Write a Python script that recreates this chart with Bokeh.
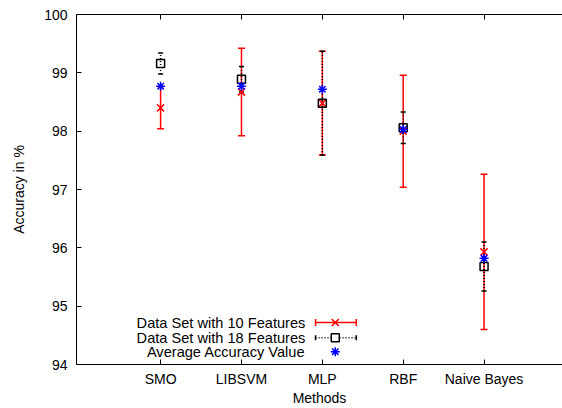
from bokeh.plotting import figure
from bokeh.models import (ColumnDataSource, Whisker, TeeHead, FixedTicker, LinearAxis,
                          Range1d, Label)
from bokeh.embed import file_html
from bokeh.resources import INLINE

# ---- data ----
methods = ["SMO", "LIBSVM", "MLP", "RBF", "Naive Bayes"]
acc10 = [98.40, 98.67, 98.48, 98.00, 95.93]
err10 = [0.36, 0.75, 0.89, 0.96, 1.33]
acc18 = [99.16, 98.89, 98.48, 98.06, 95.68]
err18 = [0.18, 0.22, 0.89, 0.27, 0.42]
avg_acc = [98.77, 98.77, 98.72, 98.03, 95.82]
y_ticks = [94, 95, 96, 97, 98, 99, 100]
legend_labels = ["Data Set with 10 Features", "Data Set with 18 Features",
                 "Average Accuracy Value"]

xs = list(range(1, len(methods) + 1))
FONT = "Liberation Sans"
FS = "14px"
LFS = "14.6px"

src = ColumnDataSource(dict(
    x=xs,
    a10=acc10, lo10=[a - e for a, e in zip(acc10, err10)], hi10=[a + e for a, e in zip(acc10, err10)],
    a18=acc18, lo18=[a - e for a, e in zip(acc18, err18)], hi18=[a + e for a, e in zip(acc18, err18)],
    avg=avg_acc,
))

p = figure(width=562, height=408, output_backend="svg", toolbar_location=None,
           x_range=Range1d(-0.04, 5.97), y_range=Range1d(94, 100),
           min_border_left=76, min_border_right=0, min_border_top=14, min_border_bottom=0)
p.outline_line_color = None
p.grid.visible = False
p.background_fill_color = "white"

# ---- axes ----
for ax in (p.xaxis[0], p.yaxis[0]):
    ax.axis_line_color = "black"
    ax.axis_line_width = 1
    ax.major_tick_line_color = "black"
    ax.major_tick_in = 5
    ax.major_tick_out = 0
    ax.minor_tick_line_color = None
    ax.major_label_text_font = FONT
    ax.major_label_text_font_size = FS
    ax.major_label_text_color = "black"
    ax.axis_label_text_font = FONT
    ax.axis_label_text_font_size = FS
    ax.axis_label_text_font_style = "normal"
    ax.axis_label_text_color = "black"

p.xaxis.ticker = FixedTicker(ticks=xs)
p.xaxis.major_label_overrides = {x: m for x, m in zip(xs, methods)}
p.xaxis.axis_label = "Methods"
p.xaxis.major_label_standoff = 6
p.xaxis.axis_label_standoff = 0

p.yaxis.ticker = FixedTicker(ticks=y_ticks)
p.yaxis.axis_label = "Accuracy in %"
p.yaxis.major_label_standoff = 9
p.yaxis.axis_label_standoff = 14

top = LinearAxis(ticker=FixedTicker(ticks=xs), major_label_text_font_size="0px",
                 major_label_standoff=0, major_tick_in=5, major_tick_out=0,
                 minor_tick_line_color=None, axis_line_color="black",
                 major_tick_line_color="black")
top.major_label_overrides = {x: "" for x in xs}
p.add_layout(top, "above")

# ---- series 1: 10 features (red) ----
p.add_layout(Whisker(source=src, base="x", lower="lo10", upper="hi10",
                     line_color="red", line_width=1.5,
                     upper_head=TeeHead(size=7, line_color="red", line_width=1.5),
                     lower_head=TeeHead(size=7, line_color="red", line_width=1.5)))
p.scatter("x", "a10", source=src, marker="x", size=10, line_color="red", line_width=1.5)

# ---- series 2: 18 features (black dotted) ----
p.add_layout(Whisker(source=src, base="x", lower="lo18", upper="hi18",
                     line_color="black", line_width=1.5, line_dash="1 2",
                     upper_head=TeeHead(size=5, line_color="black", line_width=1.5),
                     lower_head=TeeHead(size=5, line_color="black", line_width=1.5)))
p.scatter("x", "a18", source=src, marker="square", size=8, fill_color=None,
          line_color="black", line_width=1.5)

# ---- series 3: average (blue) ----
p.scatter("x", "avg", source=src, marker="asterisk", size=9, line_color="blue", line_width=1.5)

# ---- custom legend (text left, sample right, as in the reference) ----
leg_y = [94.72, 94.46, 94.22]
txt_x = 2.79
s_x0, s_x1, s_xm = 2.916, 3.42, 3.16
for lbl, yy in zip(legend_labels, leg_y):
    p.add_layout(Label(x=txt_x, y=yy, text=lbl, text_align="right", text_baseline="middle",
                       text_font=FONT, text_font_size=LFS, text_color="black"))

p.add_layout(Whisker(base=leg_y[0], lower=s_x0, upper=s_x1, dimension="width",
                     line_color="red", line_width=1.5,
                     upper_head=TeeHead(size=7, line_color="red", line_width=1.5),
                     lower_head=TeeHead(size=7, line_color="red", line_width=1.5)))
p.add_layout(Whisker(base=leg_y[1], lower=s_x0, upper=s_x1, dimension="width",
                     line_color="black", line_width=1.5, line_dash="1 2",
                     upper_head=TeeHead(size=5, line_color="black", line_width=1.5),
                     lower_head=TeeHead(size=5, line_color="black", line_width=1.5)))
p.scatter(x=[s_xm], y=[leg_y[0]], marker="x", size=10, line_color="red", line_width=1.5)
p.scatter(x=[s_xm], y=[leg_y[1]], marker="square", size=8, fill_color="white",
          line_color="black", line_width=1.5)
p.scatter(x=[s_xm], y=[leg_y[2]], marker="asterisk", size=9, line_color="blue", line_width=1.5)

open("out.html", "w").write(file_html(p, INLINE))
